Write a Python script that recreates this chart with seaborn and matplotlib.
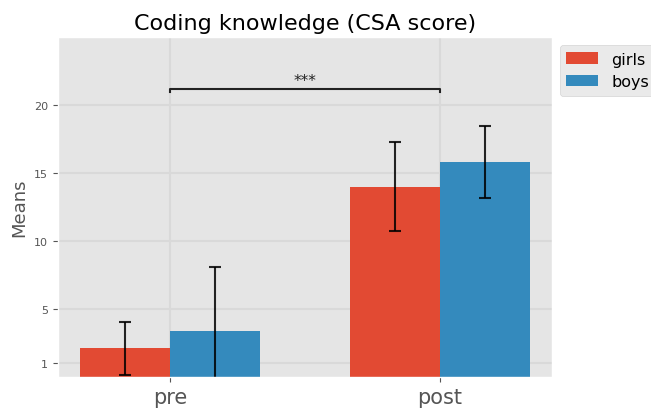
import pandas as pd
import numpy as np
import seaborn as sns
import matplotlib.pyplot as plt

plt.style.use("ggplot")

# means and standard deviations
phases = ["pre", "post"]
groups = ["girls", "boys"]
girls_mean = [2.1, 14.0]
boys_mean = [3.35, 15.85]
girls_err = [1.95, 3.27]
boys_err = [4.75, 2.65]

df = pd.DataFrame({
    "phase": phases * 2,
    "group": ["girls"] * 2 + ["boys"] * 2,
    "mean": girls_mean + boys_mean,
})
errs = {"girls": girls_err, "boys": boys_err}

fig = plt.figure(figsize=(6.51, 4.1), dpi=100)
ax = fig.add_axes([0.089, 0.078, 0.759, 0.829])

sns.barplot(data=df, x="phase", y="mean", hue="group", order=phases,
            hue_order=groups, palette=["#E24A33", "#348ABD"], width=2 / 3,
            saturation=1, errorbar=None, ax=ax, linewidth=0)

# error bars on top of each bar
for cont, g in zip(ax.containers, groups):
    xs = [b.get_x() + b.get_width() / 2 for b in cont]
    hs = [b.get_height() for b in cont]
    ax.errorbar(xs, hs, yerr=errs[g], fmt="none", ecolor="black",
                elinewidth=1.5, capsize=4, capthick=1.5, alpha=0.85)

# significance bracket between pre and post
y, h = 20.95, 0.2
ax.plot([0, 0, 1, 1], [y, y + h, y + h, y], color="#222222", lw=1.5)
ax.text(0.5, y + h + 0.1, "***", ha="center", va="bottom", fontsize=11, color="#222222")

ax.set_xlim(-5 / 12, 1 + 5 / 12)
ax.set_ylim(0, 25)
ax.set_yticks([1, 5, 10, 15, 20])
ax.grid(True, color="#D9D9D9", linewidth=1.5)
ax.set_axisbelow(True)
ax.tick_params(axis="y", labelsize=8)
ax.tick_params(axis="x", labelsize=15)
ax.set_xlabel("")
ax.set_ylabel("Means", fontsize=13, color="#555555")
ax.set_title("Coding knowledge (CSA score)", fontsize=16, color="black")
ax.legend(bbox_to_anchor=(1, 1), loc="upper left", fontsize=11.5)

fig.savefig("out.png", dpi=100)
